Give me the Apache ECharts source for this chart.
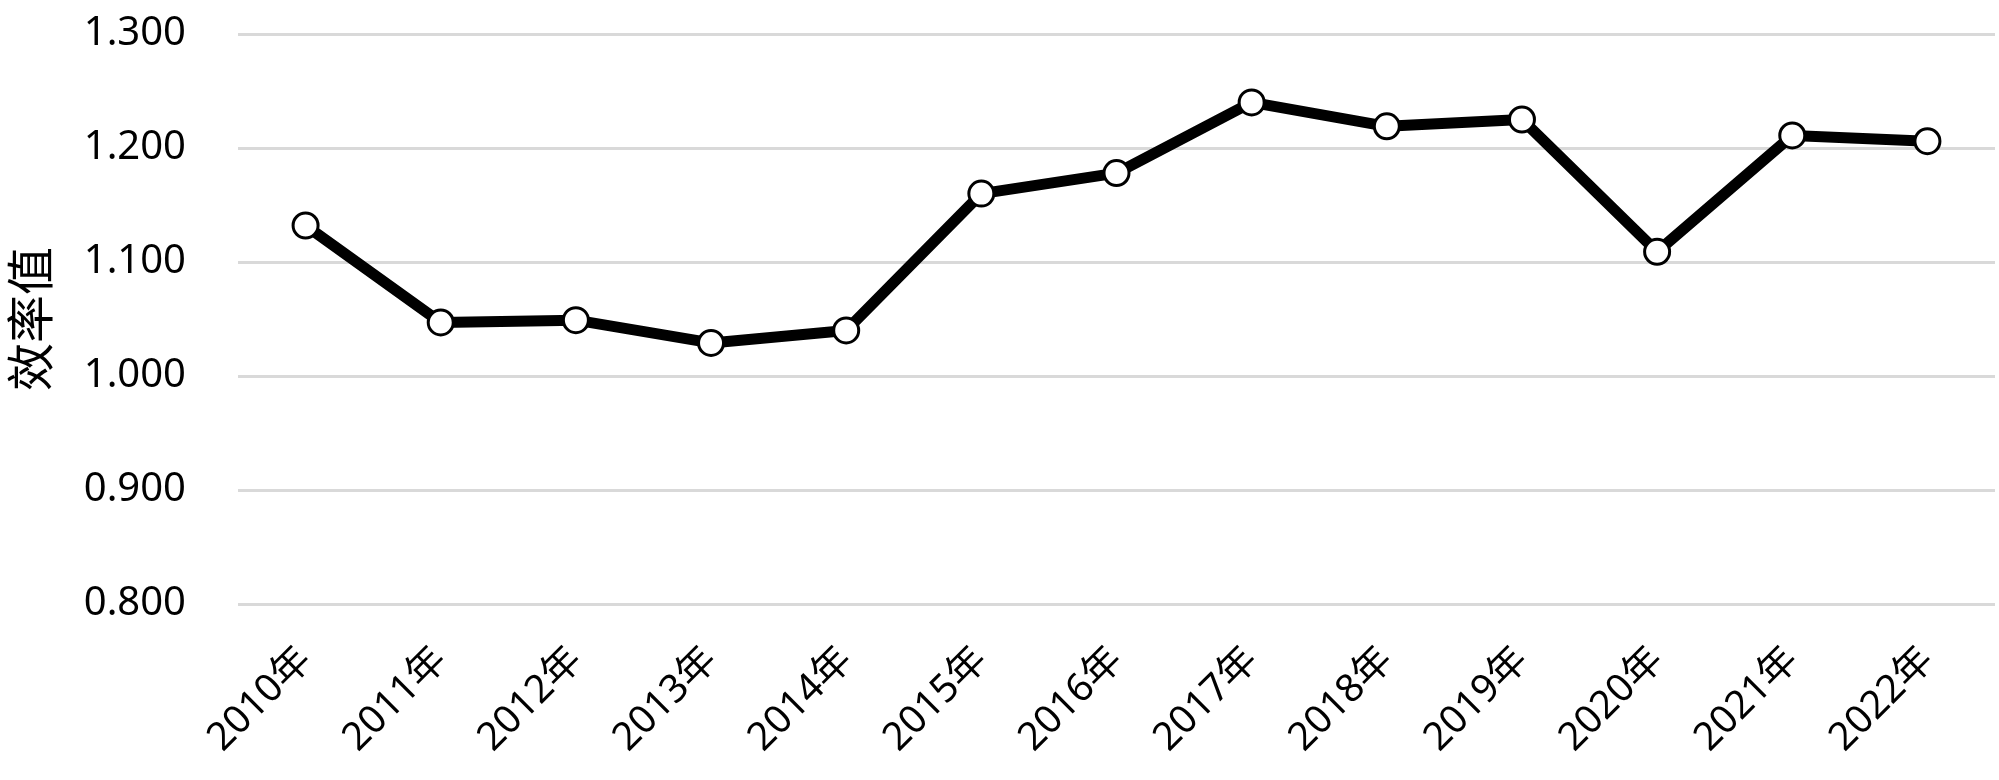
<!DOCTYPE html>
<html>
<head>
<meta charset="utf-8">
<script src="https://cdn.jsdelivr.net/npm/echarts@6/dist/echarts.min.js"></script>
<style>
  html, body { margin: 0; padding: 0; background: #fff; }
  #chart { width: 1999px; height: 780px; }
</style>
</head>
<body>
<div id="chart"></div>
<script>
var years = ['2010年','2011年','2012年','2013年','2014年','2015年','2016年','2017年','2018年','2019年','2020年','2021年','2022年'];
var efficiency = [1.132, 1.047, 1.049, 1.029, 1.040, 1.160, 1.178, 1.240, 1.219, 1.225, 1.109, 1.211, 1.206];
var yMin = 0.8;
var yMax = 1.3;
var yStep = 0.1;

var chart = echarts.init(document.getElementById('chart'));

var font = '"Noto Sans", "Noto Sans CJK SC", sans-serif';

var option = {
    animation: false,
    grid: {
        left: 238,
        right: 4,
        top: 34,
        bottom: 176
    },
    xAxis: {
        type: 'category',
        data: years,
        boundaryGap: true,
        axisLine: { show: false },
        axisTick: { show: false },
        axisLabel: {
            rotate: 45,
            margin: 50,
            color: '#000',
            fontSize: 39,
            fontFamily: font
        }
    },
    yAxis: {
        type: 'value',
        min: yMin,
        max: yMax,
        interval: yStep,
        name: '效率值',
        nameLocation: 'middle',
        nameGap: 180,
        nameTextStyle: {
            color: '#000',
            fontSize: 48,
            fontFamily: font
        },
        axisLine: { show: false },
        axisTick: { show: false },
        axisLabel: {
            margin: 52,
            color: '#000',
            fontSize: 40,
            fontFamily: font,
            formatter: function (v) { return v.toFixed(3); }
        },
        splitLine: {
            lineStyle: { color: '#d9d9d9', width: 3 }
        }
    },
    series: [{
        name: '效率值',
        type: 'line',
        data: efficiency,
        symbol: 'circle',
        symbolSize: 25,
        lineStyle: { color: '#000', width: 11 },
        itemStyle: { color: '#fff', borderColor: '#000', borderWidth: 3 }
    }]
};

chart.setOption(option);
</script>
</body>
</html>
